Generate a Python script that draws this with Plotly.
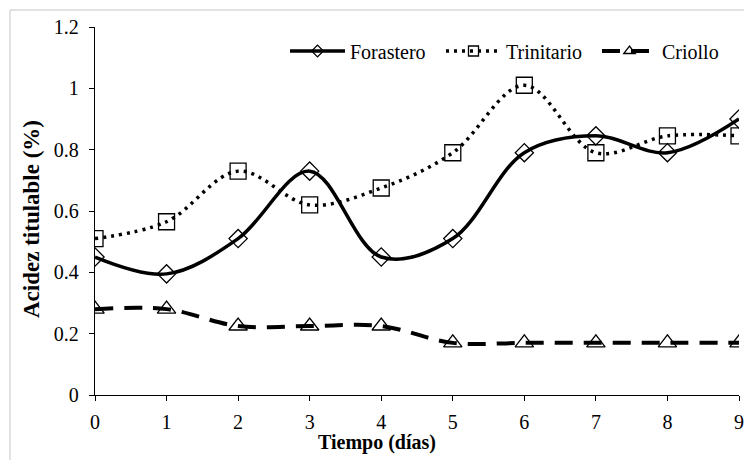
import plotly.graph_objects as go

dias = [0, 1, 2, 3, 4, 5, 6, 7, 8, 9]
forastero = [0.45, 0.395, 0.51, 0.73, 0.45, 0.51, 0.79, 0.845, 0.79, 0.90]
trinitario = [0.51, 0.565, 0.73, 0.62, 0.675, 0.79, 1.01, 0.79, 0.845, 0.845]
criollo = [0.28, 0.28, 0.225, 0.225, 0.225, 0.17, 0.17, 0.17, 0.17, 0.17]
y_ticks = [0, 0.2, 0.4, 0.6, 0.8, 1, 1.2]

W, H = 744, 460
L, R, T, B = 95, 5, 27, 65
pw, ph = W - L - R, H - T - B

font = "Liberation Serif"

series = [
    ("Forastero", forastero, "diamond-open", 14, 9, dict(width=3.5)),
    ("Trinitario", trinitario, "square-open", 16, 10, dict(width=3.5, dash="3px,5px")),
    ("Criollo", criollo, "triangle-up-open", 16, 10, dict(width=4, dash="18px,11px")),
]

fig = go.Figure()
for name, vals, sym, msize, lsize, ln in series:
    fig.add_trace(go.Scatter(
        x=dias, y=vals, name=name, mode="lines+markers", showlegend=False,
        line=dict(color="black", shape="spline", smoothing=1, **ln),
        marker=dict(symbol=sym, size=msize, color="black", line=dict(width=1.3, color="black")),
    ))
# legend entries (smaller markers, as in the reference legend)
for name, vals, sym, msize, lsize, ln in series:
    fig.add_trace(go.Scatter(
        x=[None], y=[None], name=name, mode="lines+markers", showlegend=True,
        line=dict(color="black", **ln),
        marker=dict(symbol=sym, size=lsize, color="black", line=dict(width=1.3, color="black")),
    ))

# light gray outer frame
x0 = (10 - L) / pw
y0 = 1 + (T - 10) / ph
fig.add_shape(type="line", xref="paper", yref="paper", x0=x0, y0=y0, x1=1.2, y1=y0,
              line=dict(color="#d9d9d9", width=1.5), layer="below")
fig.add_shape(type="line", xref="paper", yref="paper", x0=x0, y0=y0, x1=x0, y1=-0.3,
              line=dict(color="#d9d9d9", width=1.5), layer="below")

fig.add_annotation(text="<b>Tiempo (días)</b>", xref="paper", yref="paper",
                   x=(377 - L) / pw, y=1 - (442 - T) / ph, showarrow=False,
                   xanchor="center", yanchor="middle",
                   font=dict(family=font, size=20, color="black"))
fig.add_annotation(text="<b>Acidez titulable (%)</b>", xref="paper", yref="paper",
                   x=(31 - L) / pw, y=1 - (219 - T) / ph, showarrow=False, textangle=-90,
                   xanchor="center", yanchor="middle",
                   font=dict(family=font, size=23, color="black"))

fig.update_layout(
    width=W, height=H,
    margin=dict(l=L, r=R, t=T, b=B, autoexpand=False),
    paper_bgcolor="white", plot_bgcolor="white",
    font=dict(family=font, size=20, color="black"),
    showlegend=True,
    legend=dict(orientation="h", x=(285 - L) / pw, y=1 - (51 - T) / ph, xanchor="left", yanchor="middle",
                bgcolor="rgba(0,0,0,0)", font=dict(family=font, size=20, color="black"),
                itemwidth=55, tracegroupgap=0, entrywidth=86, entrywidthmode="pixels"),
    xaxis=dict(range=[0, 9], tickvals=dias, showgrid=False, zeroline=False,
               showline=True, linecolor="black", linewidth=1.3,
               ticks="outside", ticklen=5, tickcolor="black", tickwidth=1.3, ticklabelstandoff=4,
               tickfont=dict(family=font, size=20, color="black")),
    yaxis=dict(range=[0, 1.2], tickvals=y_ticks, ticktext=["0", "0.2", "0.4", "0.6", "0.8", "1", "1.2"],
               showgrid=False, zeroline=False,
               showline=True, linecolor="black", linewidth=1.3,
               ticks="outside", ticklen=5, tickcolor="black", tickwidth=1.3, ticklabelstandoff=6,
               tickfont=dict(family=font, size=20, color="black")),
)

fig.write_html("out.html", config={"displayModeBar": False},
               post_script="document.body.style.margin='0';document.body.style.padding='0';")
